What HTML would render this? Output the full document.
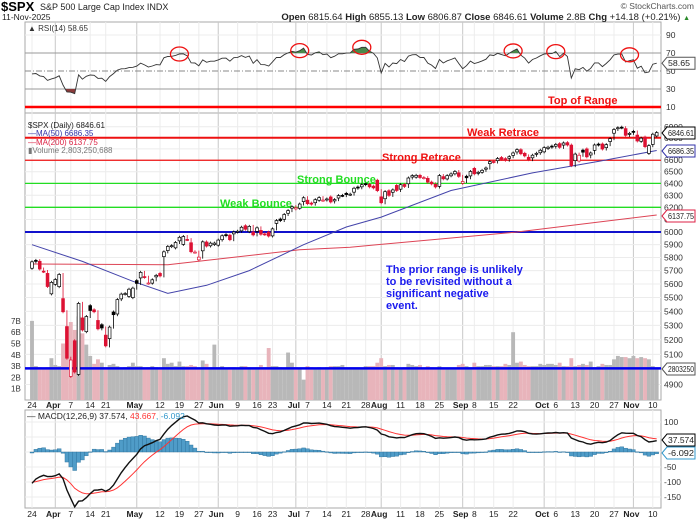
<!DOCTYPE html>
<html><head><meta charset="utf-8">
<style>
body{margin:0;background:#fff;}
#wrap{position:relative;width:696px;height:520px;overflow:hidden;font-family:"Liberation Sans",sans-serif;}
svg text{font-family:"Liberation Sans",sans-serif;}
</style></head>
<body>
<div id="wrap">
<svg id="chart" width="696" height="520" xmlns="http://www.w3.org/2000/svg"></svg>
</div>
<script>
const closes=[5767,5776,5712,5693,5581,5612,
5633,5671,5397,5074,5062,4982,5457,5268,5363,5406,5397,5276,5282,5158,5288,5376,5485,5525,5529,5561,5569,
5604,5687,5650,5607,5631,5664,5660,5844,5886,5892,5917,5958,5964,5940,5845,5842,5803,5922,5889,5912,5912,
5936,5970,5971,5939,6000,6006,6038,6022,6045,5977,6033,5982,5981,5968,6025,6092,6092,6141,6173,6205,
6198,6227,6279,6230,6226,6263,6280,6260,6269,6244,6264,6297,6297,6306,6309,6359,6363,6389,6390,6371,6362,6339,
6238,6330,6299,6345,6340,6389,6374,6446,6466,6469,6450,6449,6411,6396,6370,6467,6439,6466,6481,6502,6460,
6416,6448,6502,6482,6495,6512,6532,6588,6584,6615,6607,6600,6631,6664,6693,6657,6638,6605,6644,6661,6688,
6711,6715,6716,6740,6714,6753,6735,6553,6654,6644,6671,6630,6664,6735,6735,6699,6738,6792,6875,6891,6891,6822,6840,
6852,6771,6796,6720,6729,6832,6847];
const opens=[5718,5778,5771,5696,5679,5527,
5597,5580,5492,5292,4953,5193,4966,5353,5256,5441,5411,5335,5305,5232,5208,5395,5381,5490,5529,5508,5499,
5625,5645,5655,5605,5606,5653,5679,5807,5854,5885,5875,5930,5902,5941,5915,5842,5782,5852,5921,5891,5901,
5896,5939,5979,5975,5985,6005,6009,6050,6003,6000,6005,6013,5985,5999,5969,6069,6104,6102,6151,6193,
6187,6192,6247,6259,6235,6238,6258,6257,6265,6286,6253,6277,6299,6316,6307,6326,6369,6371,6398,6392,6377,6427,
6287,6271,6338,6325,6383,6351,6391,6397,6454,6453,6469,6446,6443,6411,6392,6375,6458,6438,6465,6482,6491,
6401,6461,6464,6529,6490,6495,6522,6570,6589,6596,6624,6614,6617,6643,6673,6693,6661,6626,6621,6659,6666,
6674,6704,6725,6724,6747,6734,6756,6734,6597,6593,6689,6700,6646,6687,6743,6744,6711,6766,6841,6885,6896,6883,6830,
6858,6824,6768,6806,6660,6740,6816];
const volumes=[7.0,3.0,2.9,2.7,2.9,3.7,
3.1,3.0,5.0,6.5,6.9,6.2,7.4,5.9,4.9,3.9,3.2,3.6,3.3,2.9,3.1,3.2,3.0,2.7,2.9,3.0,3.3,
3.0,3.0,2.8,2.9,3.0,2.9,2.8,3.7,3.2,3.3,3.0,3.4,3.0,3.0,3.1,3.0,2.8,3.5,3.2,2.9,4.9,
2.9,3.0,2.8,2.9,2.9,2.7,3.0,3.0,2.9,2.9,2.9,3.1,2.9,4.6,3.0,3.0,2.9,2.8,4.2,3.3,
2.9,2.8,1.8,3.0,2.9,2.8,2.9,2.8,2.9,3.0,3.0,3.0,3.1,2.9,2.9,2.9,2.9,2.8,3.0,3.0,3.0,3.3,
3.7,3.0,3.1,3.1,2.9,2.8,2.9,3.2,3.1,3.0,3.1,2.7,3.0,2.9,2.8,3.0,2.8,2.8,2.7,2.8,3.1,
3.2,3.0,2.9,3.3,3.0,3.0,3.1,3.1,3.0,3.0,3.0,3.2,3.1,6.0,3.3,3.4,3.1,3.0,3.0,3.0,3.2,
3.1,3.2,3.2,3.1,3.3,3.0,3.0,3.7,3.0,3.1,3.2,3.1,3.4,2.9,3.0,3.2,3.1,3.1,3.6,3.9,3.8,3.8,3.7,
3.9,3.7,3.8,3.7,3.6,3.0,2.8];
const ma50Idx=[0,13,26,35,45,56,70,81,90,108,129,146,161];
const ma50Val=[5900,5770,5620,5530,5590,5700,5900,6040,6120,6340,6490,6590,6686];
const ma200Idx=[0,35,69,82,125,161];
const ma200Val=[5750,5745,5860,5880,6000,6137];
const levelVals=[6800,6600,6400,6200,6000];
const priceTicks=[6900,6800,6700,6600,6500,6400,6300,6200,6100,6000,5900,5800,5700,5600,5500,5400,5300,5200,5100,5000,4900];
const rsiTicks=[90,70,50,30,10];
const macdTicks=[100,50,0,-50,-100,-150];
const volTicks=[1,2,3,4,5,6,7];
const dateIdx=[0,6,10,15,19,27,33,38,43,48,53,58,62,68,71,76,81,86,90,95,100,105,111,114,119,124,132,135,140,145,150,155,160];
const dateLbl=['24','Apr','7','14','21','May','12','19','27','Jun','9','16','23','Jul','7','14','21','28','Aug','11','18','25','Sep','8','15','22','Oct','6','13','20','27','Nov','10'];
const monthIdx=[6,27,48,68,90,111,132,155];
const circIdx=[38,69,85,124,135,154];

const NS='http://www.w3.org/2000/svg';
const svg=document.getElementById('chart');
const L=25,R=661;
const xS=i=>32+i*3.88;
const yP=p=>232-753*Math.log(p/6000);
const yR=v=>71-(v-50)*0.9;
const yV=v=>400-v*11.3;
const yM=v=>452-v*0.3;
function el(tag,attrs,parent){const e=document.createElementNS(NS,tag);for(const k in attrs)e.setAttribute(k,attrs[k]);(parent||svg).appendChild(e);return e;}
function txt(x,y,s,attrs,parent){const t=el('text',Object.assign({x:x,y:y,'font-size':9,fill:'#222'},attrs||{}),parent);t.textContent=s;return t;}

const pRsi=el('rect',{x:L,y:22,width:R-L,height:91,fill:'#fff',stroke:'#aaa'});


const pPrice=el('rect',{x:L,y:113,width:R-L,height:287,fill:'#fff',stroke:'#aaa'});


const pMacd=el('rect',{x:L,y:410,width:R-L,height:98,fill:'#fff',stroke:'#aaa'});



dateIdx.forEach(i=>{
  const m=monthIdx.includes(i);
  [[22,113],[113,400],[410,508]].forEach(([a,b])=>{
    const g=el('line',{x1:xS(i),x2:xS(i),y1:a,y2:b,stroke:m?'#c8c8c8':'#ececec','stroke-width':1});
    
    
  });
});
priceTicks.forEach(p=>{
  const g=el('line',{x1:L,x2:R,y1:yP(p),y2:yP(p),stroke:'#ececec'});
  
  
  const t=txt(664,yP(p)+3,String(p),{'font-size':8.5,fill:'#333'});
  
  
});
rsiTicks.forEach(v=>{
  const dash=v===50;
  const g=el('line',{x1:L,x2:R,y1:yR(v),y2:yR(v),stroke:(v===70||v===30)?'#999':(dash?'#888':'#ececec'),'stroke-dasharray':dash?'6,2,1,2':'none'});
  
  
  const t=txt(666,yR(v)+3,String(v),{'font-size':8.5,fill:'#333'});
  
  
});
macdTicks.forEach(v=>{
  const g=el('line',{x1:L,x2:R,y1:yM(v),y2:yM(v),stroke:'#ececec'});
  
  
  if(v!==0&&v!==50){const t=txt(664,yM(v)+3,String(v),{'font-size':8.5,fill:'#333'});
  
  }
});
volTicks.forEach(v=>{
  const t=txt(11,yV(v)+3,v+'B',{'font-size':8,fill:'#333'});
  
  
});
[405,514].forEach(yy=>{
  dateIdx.forEach((i,k)=>{
    const bold=isNaN(+dateLbl[k]);
    const t=txt(xS(i)+(bold?-2:0),yy+3,dateLbl[k],{'font-size':8.5,'font-weight':bold?'bold':'normal','text-anchor':'middle',fill:'#222'});
    
    
  });
});

volumes.forEach((v,i)=>{
  const down=i>0&&closes[i]<closes[i-1];
  const b=el('rect',{x:xS(i)-1.94,y:yV(v),width:3.88,height:400-yV(v),fill:down?'#e8b4bb':'#b8b8b8'});
  
  
});

levelVals.forEach((p,k)=>{
  const col=k<2?'#ee1111':(k<4?'#22dd22':'#1111cc');
  const w=(k===0||k===4)?2:1.3;
  const l=el('line',{x1:L,x2:R,y1:yP(p),y2:yP(p),stroke:col,'stroke-width':w});
  
  
});
const topRangeLine=el('line',{x1:L,x2:R,y1:107,y2:107,stroke:'#ff0000','stroke-width':2.5});


const vline=el('line',{x1:L,x2:R,y1:yV(2.8),y2:yV(2.8),stroke:'#0000ee','stroke-width':2.5});



function interpPath(idx,val){let d='';for(let k=0;k<idx.length;k++){d+=(k?'L':'M')+xS(idx[k]).toFixed(1)+','+yP(val[k]).toFixed(1);}return d;}
const m200=el('path',{d:interpPath(ma200Idx,ma200Val),fill:'none',stroke:'#dd4455','stroke-width':1});


const m50=el('path',{d:interpPath(ma50Idx,ma50Val),fill:'none',stroke:'#4444aa','stroke-width':1});



closes.forEach((c,i)=>{
  const o=opens[i]!==undefined?opens[i]:c;
  const prev=i>0?closes[i-1]:o;
  const col=(c<prev)?'#dd1133':'#000';
  const hi=Math.max(o,c,prev),lo=Math.min(o,c,prev);
  const w=el('line',{x1:xS(i),x2:xS(i),y1:yP(hi)-1.5,y2:yP(lo)+1.5,stroke:col,'stroke-width':0.8});
  
  
  const yt=yP(Math.max(o,c)),yb=yP(Math.min(o,c));
  const filled=c<o;
  const b=el('rect',{x:xS(i)-1.4,y:yt,width:2.8,height:Math.max(1,yb-yt),fill:filled?col:'#fff',stroke:col,'stroke-width':0.7});
  
  
});

let ag=38,al=52;const rsi=[];
closes.forEach((c,i)=>{
  const ch=i>0?c-closes[i-1]:c-5667;
  ag=(ag*13+Math.max(ch,0))/14;al=(al*13+Math.max(-ch,0))/14;
  rsi.push(100-100/(1+ag/al));
});
let rd='';rsi.forEach((v,i)=>{rd+=(i?'L':'M')+xS(i).toFixed(1)+','+yR(v).toFixed(1);});
const defs=el('defs',{});
const c1=el('clipPath',{id:'above70'},defs);el('rect',{x:L,y:0,width:R-L,height:yR(70)},c1);
const c2=el('clipPath',{id:'below30'},defs);el('rect',{x:L,y:yR(30),width:R-L,height:40},c2);
const areaD=rd+'L'+xS(rsi.length-1)+','+yR(70)+'L'+xS(0)+','+yR(70)+'Z';
const ga=el('path',{d:areaD,fill:'#4a8a4a','clip-path':'url(#above70)'});


const areaD2=rd+'L'+xS(rsi.length-1)+','+yR(30)+'L'+xS(0)+','+yR(30)+'Z';
const ra=el('path',{d:areaD2,fill:'#8a3a3a','clip-path':'url(#below30)'});


const rl=el('path',{d:rd,fill:'none',stroke:'#333','stroke-width':0.9});



circIdx.forEach(i=>{
  const v=rsi[i];
  const c=el('ellipse',{cx:xS(i),cy:Math.min(yR(Math.max(v,68)),56),rx:9,ry:7,fill:'none',stroke:'#ee1111','stroke-width':1.3});
  
  
});

let e12=5680,e26=5800,sig=-100;const macd=[],sg=[],hist=[];
closes.forEach(c=>{e12+=(c-e12)*2/13;e26+=(c-e26)*2/27;const m=e12-e26;sig+=(m-sig)*2/10;macd.push(m);sg.push(sig);hist.push(m-sig);});
hist.forEach((h,i)=>{
  const y0=yM(0),y1=yM(h);
  const b=el('rect',{x:xS(i)-1.94,y:Math.min(y0,y1),width:3.88,height:Math.max(0.6,Math.abs(y1-y0)),fill:'#4f9cc8',stroke:'#2a6f99','stroke-width':0.4});
  
  
});
function lineD(arr,f){let d='';arr.forEach((v,i)=>{d+=(i?'L':'M')+xS(i).toFixed(1)+','+Math.max(411,f(v)).toFixed(1);});return d;}
const sl=el('path',{d:lineD(sg,yM),fill:'none',stroke:'#ff3333','stroke-width':1});


const ml=el('path',{d:lineD(macd,yM),fill:'none',stroke:'#111','stroke-width':1.4});



function T(x,y,s,a,name){const t=txt(x,y,s,a);return t;}
T(1,11,'$SPX',{'font-size':13,'font-weight':'bold',fill:'#000'},'ticker-symbol');
T(40,10,'S&P 500 Large Cap Index  INDX',{'font-size':9,fill:'#222'},'index-name');
T(2,20,'11-Nov-2025',{'font-size':8.5,fill:'#222'},'chart-date');
T(694,9,'© StockCharts.com',{'font-size':8.5,fill:'#555','text-anchor':'end'},'watermark');
const q=T(690,20,'',{'font-size':9.5,'text-anchor':'end',fill:'#222'},'quote-summary');
[['Open ',1],['6815.64  ',0],['High ',1],['6855.13  ',0],['Low ',1],['6806.87  ',0],['Close ',1],['6846.61  ',0],['Volume ',1],['2.8B  ',0],['Chg ',1],['+14.18 (+0.21%) ',0]].forEach(([s,b])=>{const ts=el('tspan',{'font-weight':b?'bold':'normal'},q);ts.textContent=s;});
const tri=el('tspan',{fill:'#2a8a2a','font-size':7},q);tri.textContent='▲';
T(28,31,'▲ RSI(14) 58.65',{'font-size':8,fill:'#333'},'rsi-legend');
T(28,128,'$SPX (Daily) 6846.61',{'font-size':8,fill:'#222'},'price-legend');
T(28,136,'—MA(50) 6686.35',{'font-size':8,fill:'#3333aa'},'ma50-legend');
T(28,145,'—MA(200) 6137.75',{'font-size':8,fill:'#dd2244'},'ma200-legend');
T(28,153,'▮Volume 2,803,250,688',{'font-size':8,fill:'#777'},'volume-legend');
const ml2=T(27,419,'',{'font-size':8.5},'macd-legend');
[['— MACD(12,26,9) 37.574, ','#222'],['43.667','#ff3333'],[', -6.092','#3399cc']].forEach(([s,c])=>{const ts=el('tspan',{fill:c},ml2);ts.textContent=s;});

T(548,104,'Top of Range',{'font-size':11,'font-weight':'bold',fill:'#ee1111'},'top-of-range-label');
T(467,136,'Weak Retrace',{'font-size':11,'font-weight':'bold',fill:'#ee1111'},'weak-retrace-label');
T(382,161,'Strong Retrace',{'font-size':11,'font-weight':'bold',fill:'#ee1111'},'strong-retrace-label');
T(297,183,'Strong Bounce',{'font-size':11,'font-weight':'bold',fill:'#22dd22'},'strong-bounce-label');
T(220,207,'Weak Bounce',{'font-size':11,'font-weight':'bold',fill:'#22dd22'},'weak-bounce-label');
['The prior range is unlikely','to be revisited without a','significant negative','event.'].forEach((s,k)=>{
  T(386,273+k*12,s,{'font-size':11,'font-weight':'bold',fill:'#1a1aee'},'range-note');
});

function tag(y,s,col,name){
  const g=el('g',{});
  
  
  el('path',{d:`M662,${y} L667,${y-6} L695,${y-6} L695,${y+6} L667,${y+6} Z`,fill:'#fff',stroke:col,'stroke-width':1},g);
  txt(668,y+3,s,{'font-size':8,fill:'#222',textLength:Math.min(26,s.length*4.4),lengthAdjust:'spacingAndGlyphs'},g);
}
tag(yR(58.65),'58.65','#555','rsi-value-tag');
tag(133,'6846.61','#000','price-value-tag');
tag(151,'6686.35','#3333aa','ma50-value-tag');
tag(216,'6137.75','#dd2244','ma200-value-tag');
tag(369,'2803250','#555','volume-value-tag');
tag(440,'37.574','#000','macd-value-tag');
tag(453,'-6.092','#3399cc','histogram-value-tag');
</script>
</body></html>
